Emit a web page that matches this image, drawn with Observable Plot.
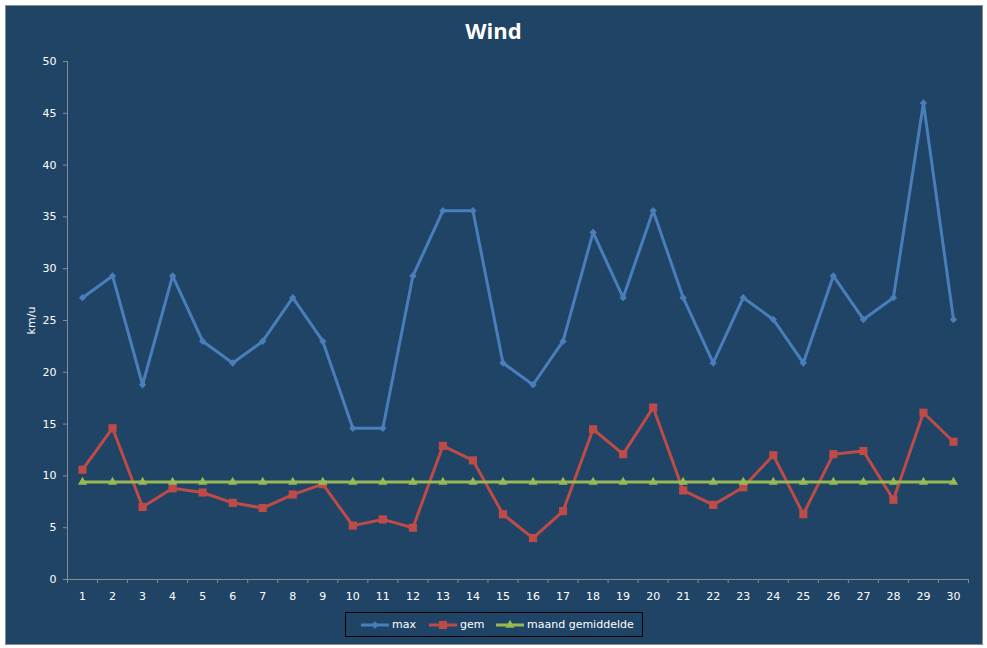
<!DOCTYPE html>
<html>
<head>
<meta charset="utf-8">
<script src="https://cdn.jsdelivr.net/npm/d3@7"></script>
<script src="https://cdn.jsdelivr.net/npm/@observablehq/plot@0.6"></script>
<style>
  html, body { margin: 0; padding: 0; background: #ffffff; }
  #wrap { position: relative; width: 987px; height: 648px; overflow: hidden; }
  #frame { position: absolute; left: 5px; top: 5px; width: 978px; height: 640px; box-sizing: border-box;
           background: #1F4466; border: 1px solid #8c8c8c; }
  #title { position: absolute; left: 0; width: 987px; top: 15px; text-align: center; color: #ffffff;
           font-family: "Open Sans", sans-serif; font-weight: bold; font-size: 22px; line-height: 30px; }
  #chart { position: absolute; left: 0; top: 0; }
  #legend { position: absolute; left: 345px; top: 612px; width: 298px; height: 25px; box-sizing: border-box;
            border: 1px solid #000000; }
  .item { position: absolute; top: 0; height: 23px; display: flex; align-items: center;
          font-family: "DejaVu Sans", sans-serif; font-size: 11px; color: #ffffff; }
  .item svg { margin-right: 3px; }
</style>
</head>
<body>
<div id="wrap">
  <div id="frame"></div>
  <div id="title"></div>
  <div id="chart"></div>
  <div id="legend"></div>
</div>
<script>
// ---- data ----
const titleText = "Wind";
const yLabel = "km/u";
const seriesNames = ["max", "gem", "maand gemiddelde"];
const seriesColors = ["#4A7EBB", "#BE4B48", "#98B954"];
const seriesSymbols = ["diamond2", "square", "triangle"];
const days = [1,2,3,4,5,6,7,8,9,10,11,12,13,14,15,16,17,18,19,20,21,22,23,24,25,26,27,28,29,30];
const maxValues = [27.2,29.3,18.8,29.3,23.0,20.9,23.0,27.2,23.0,14.6,14.6,29.3,35.6,35.6,20.9,18.8,23.0,33.5,27.2,35.6,27.2,20.9,27.2,25.1,20.9,29.3,25.1,27.2,46.0,25.1];
const gemValues = [10.6,14.6,7.0,8.8,8.4,7.4,6.9,8.2,9.2,5.2,5.8,5.0,12.9,11.5,6.3,4.0,6.6,14.5,12.1,16.6,8.6,7.2,8.9,12.0,6.3,12.1,12.4,7.7,16.1,13.3];
const avgValues = [9.4,9.4,9.4,9.4,9.4,9.4,9.4,9.4,9.4,9.4,9.4,9.4,9.4,9.4,9.4,9.4,9.4,9.4,9.4,9.4,9.4,9.4,9.4,9.4,9.4,9.4,9.4,9.4,9.4,9.4];
const yTicks = [0,5,10,15,20,25,30,35,40,45,50];

// ---- build ----
const seriesValues = [maxValues, gemValues, avgValues];
const rows = [];
seriesNames.forEach((name, s) => {
  days.forEach((d, i) => rows.push({series: name, day: d, value: seriesValues[s][i]}));
});
const symbolR = {"diamond2": 3.3, "square": 4.6, "triangle": 3.4};
const axisColor = "#8a8a8a";
const xBoundaries = d3.range(days[0] - 0.5, days[days.length - 1] + 1, 1);

const marks = [
  Plot.axisY({ticks: yTicks, tickSize: 4, tickPadding: 7, stroke: axisColor, fill: "#ffffff",
               label: yLabel, labelAnchor: "center", labelOffset: 40, labelArrow: "none"}),
  Plot.axisX({ticks: xBoundaries, tickSize: 4, tickFormat: () => "", stroke: axisColor, label: null}),
  Plot.axisX({ticks: days, tickSize: 0, tickPadding: 13, fill: "#ffffff", label: null}),
  Plot.ruleX([xBoundaries[0]], {stroke: axisColor, strokeWidth: 1}),
  Plot.ruleY([0], {stroke: axisColor, strokeWidth: 1})
];
[1, 0, 2].forEach(s => {
  const name = seriesNames[s];
  const data = rows.filter(r => r.series === name);
  marks.push(Plot.line(data, {x: "day", y: "value", stroke: seriesColors[s], strokeWidth: 3, curve: "linear"}));
  marks.push(Plot.dot(data, {x: "day", y: "value", symbol: () => seriesSymbols[s], fill: seriesColors[s],
                             stroke: "none", r: symbolR[seriesSymbols[s]]}));
});

const chart = Plot.plot({
  width: 987, height: 620,
  marginTop: 61, marginLeft: 67, marginRight: 19, marginBottom: 41,
  style: {background: "transparent", fontFamily: "'DejaVu Sans', sans-serif", fontSize: "11px", color: "#ffffff", overflow: "visible"},
  x: {type: "linear", domain: [xBoundaries[0], xBoundaries[xBoundaries.length - 1]]},
  y: {type: "linear", domain: [0, 50]},
  symbol: {type: "identity"},
  marks
});
document.getElementById("chart").appendChild(chart);
document.getElementById("title").textContent = titleText;

// ---- legend ----
const legend = document.getElementById("legend");
const itemLefts = [15, 83, 150];
seriesNames.forEach((name, s) => {
  const div = document.createElement("div");
  div.className = "item";
  div.style.left = itemLefts[s] + "px";
  const svg = d3.create("svg").attr("width", 28).attr("height", 12);
  svg.append("line").attr("x1", 0).attr("x2", 28).attr("y1", 6).attr("y2", 6)
     .attr("stroke", seriesColors[s]).attr("stroke-width", 3);
  const sym = {"diamond2": d3.symbolDiamond2, "square": d3.symbolSquare, "triangle": d3.symbolTriangle}[seriesSymbols[s]];
  const r = symbolR[seriesSymbols[s]];
  svg.append("path").attr("transform", "translate(14,6)")
     .attr("d", d3.symbol(sym, Math.PI * r * r)()).attr("fill", seriesColors[s]);
  div.appendChild(svg.node());
  const span = document.createElement("span");
  span.textContent = name;
  div.appendChild(span);
  legend.appendChild(div);
});
</script>
</body>
</html>
